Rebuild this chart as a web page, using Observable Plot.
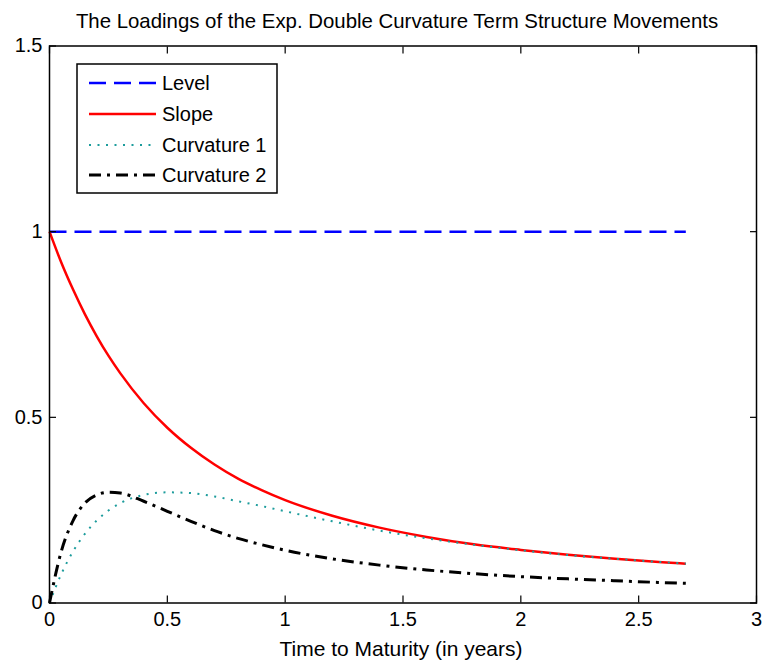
<!DOCTYPE html>
<html>
<head>
<meta charset="utf-8">
<script src="https://cdn.jsdelivr.net/npm/d3@7"></script>
<script src="https://cdn.jsdelivr.net/npm/@observablehq/plot@0.6"></script>
<style>
  html, body { margin: 0; padding: 0; background: #fff; }
  #chart { width: 764px; height: 664px; }
</style>
</head>
<body>
<div id="chart"></div>
<script>
// ---- data ----
const time   = [0, 0.05, 0.1, 0.15, 0.2, 0.25, 0.3, 0.4, 0.5, 0.6, 0.7, 0.8, 0.9, 1.0, 1.2, 1.4, 1.6, 1.8, 2.0, 2.2, 2.4, 2.6, 2.7];
const level  = [1, 1, 1, 1, 1, 1, 1, 1, 1, 1, 1, 1, 1, 1, 1, 1, 1, 1, 1, 1, 1, 1, 1];
const slope  = [1, 0.917, 0.844, 0.778, 0.719, 0.666, 0.619, 0.538, 0.472, 0.418, 0.373, 0.335, 0.304, 0.277, 0.235, 0.203, 0.178, 0.158, 0.143, 0.130, 0.119, 0.110, 0.106];
const curv1  = [0, 0.078, 0.139, 0.186, 0.222, 0.249, 0.269, 0.291, 0.298, 0.296, 0.287, 0.274, 0.261, 0.247, 0.220, 0.195, 0.174, 0.157, 0.142, 0.129, 0.119, 0.110, 0.106];
const curv2  = [0, 0.139, 0.222, 0.269, 0.291, 0.298, 0.296, 0.274, 0.247, 0.220, 0.195, 0.174, 0.157, 0.142, 0.119, 0.102, 0.089, 0.079, 0.071, 0.065, 0.060, 0.055, 0.053];
const seriesNames = ["Level", "Slope", "Curvature 1", "Curvature 2"];
const xTicks = [0, 0.5, 1, 1.5, 2, 2.5, 3];
const yTicks = [0, 0.5, 1, 1.5];
const titleText = "The Loadings of the Exp. Double Curvature Term Structure Movements";
const xLabel = "Time to Maturity (in years)";

const styles = {
  "Level":       {stroke: "#0000ff", strokeWidth: 2.5, dash: "17,8"},
  "Slope":       {stroke: "#ff0000", strokeWidth: 2.5, dash: null},
  "Curvature 1": {stroke: "#1c9c9c", strokeWidth: 2,   dash: "2,6.5"},
  "Curvature 2": {stroke: "#000000", strokeWidth: 3,   dash: "12,6,3,6"}
};
const valuesBySeries = {"Level": level, "Slope": slope, "Curvature 1": curv1, "Curvature 2": curv2};
const rows = name => time.map((t, i) => ({t, v: valuesBySeries[name][i]}));

const font = "'Liberation Sans', Arial, Helvetica, sans-serif";

const lineMarks = seriesNames.map(name => Plot.line(rows(name), {
  x: "t", y: "v",
  curve: "monotone-x",
  stroke: styles[name].stroke,
  strokeWidth: styles[name].strokeWidth,
  strokeDasharray: styles[name].dash,
  strokeLinecap: "butt"
}));

const plot = Plot.plot({
  width: 764,
  height: 664,
  marginLeft: 49,
  marginRight: 8,
  marginTop: 45.5,
  marginBottom: 61.5,
  style: {fontFamily: font, fontSize: "20px", color: "#000", background: "#fff", overflow: "visible"},
  x: {domain: [0, 3]},
  y: {domain: [0, 1.5]},
  marks: [
    ...lineMarks,
    Plot.frame({stroke: "#000", strokeWidth: 1.5}),
    Plot.axisX(xTicks, {anchor: "bottom", tickSize: 0, tickPadding: 9, tickFormat: d => String(d), fontSize: 20, label: null}),
    Plot.axisX(xTicks, {anchor: "bottom", tickSize: -7, text: null, label: null, strokeWidth: 1.2}),
    Plot.axisX(xTicks, {anchor: "top", tickSize: -7, text: null, label: null, strokeWidth: 1.2}),
    Plot.axisY(yTicks, {anchor: "left", tickSize: 0, tickPadding: 7, tickFormat: d => String(d), fontSize: 20, label: null}),
    Plot.axisY(yTicks, {anchor: "left", tickSize: -7, text: null, label: null, strokeWidth: 1.2}),
    Plot.axisY(yTicks, {anchor: "right", tickSize: -7, text: null, label: null, strokeWidth: 1.2})
  ]
});

const svg = d3.select(plot);
// title
svg.append("text")
  .attr("x", 397).attr("y", 28)
  .attr("text-anchor", "middle")
  .style("font-family", font).style("font-size", "20.4px").attr("fill", "#000")
  .text(titleText);
// x label
svg.append("text")
  .attr("x", 401).attr("y", 656)
  .attr("text-anchor", "middle")
  .style("font-family", font).style("font-size", "21px").attr("fill", "#000")
  .text(xLabel);

// legend
const lg = svg.append("g").attr("text-anchor", "start");
lg.append("rect").attr("x", 77).attr("y", 64).attr("width", 200).attr("height", 129)
  .attr("fill", "#fff").attr("stroke", "#000").attr("stroke-width", 1.5);
const entryY = [83, 114, 145, 175];
seriesNames.forEach((name, i) => {
  const s = styles[name];
  lg.append("line").attr("x1", 89).attr("x2", 156).attr("y1", entryY[i]).attr("y2", entryY[i])
    .attr("stroke", s.stroke).attr("stroke-width", s.strokeWidth)
    .attr("stroke-dasharray", s.dash);
  lg.append("text").attr("x", 162).attr("y", entryY[i]).attr("dy", "0.35em")
    .attr("text-anchor", "start")
    .style("font-family", font).style("font-size", "20px").attr("fill", "#000")
    .text(name);
});

document.getElementById("chart").appendChild(plot);
</script>
</body>
</html>
